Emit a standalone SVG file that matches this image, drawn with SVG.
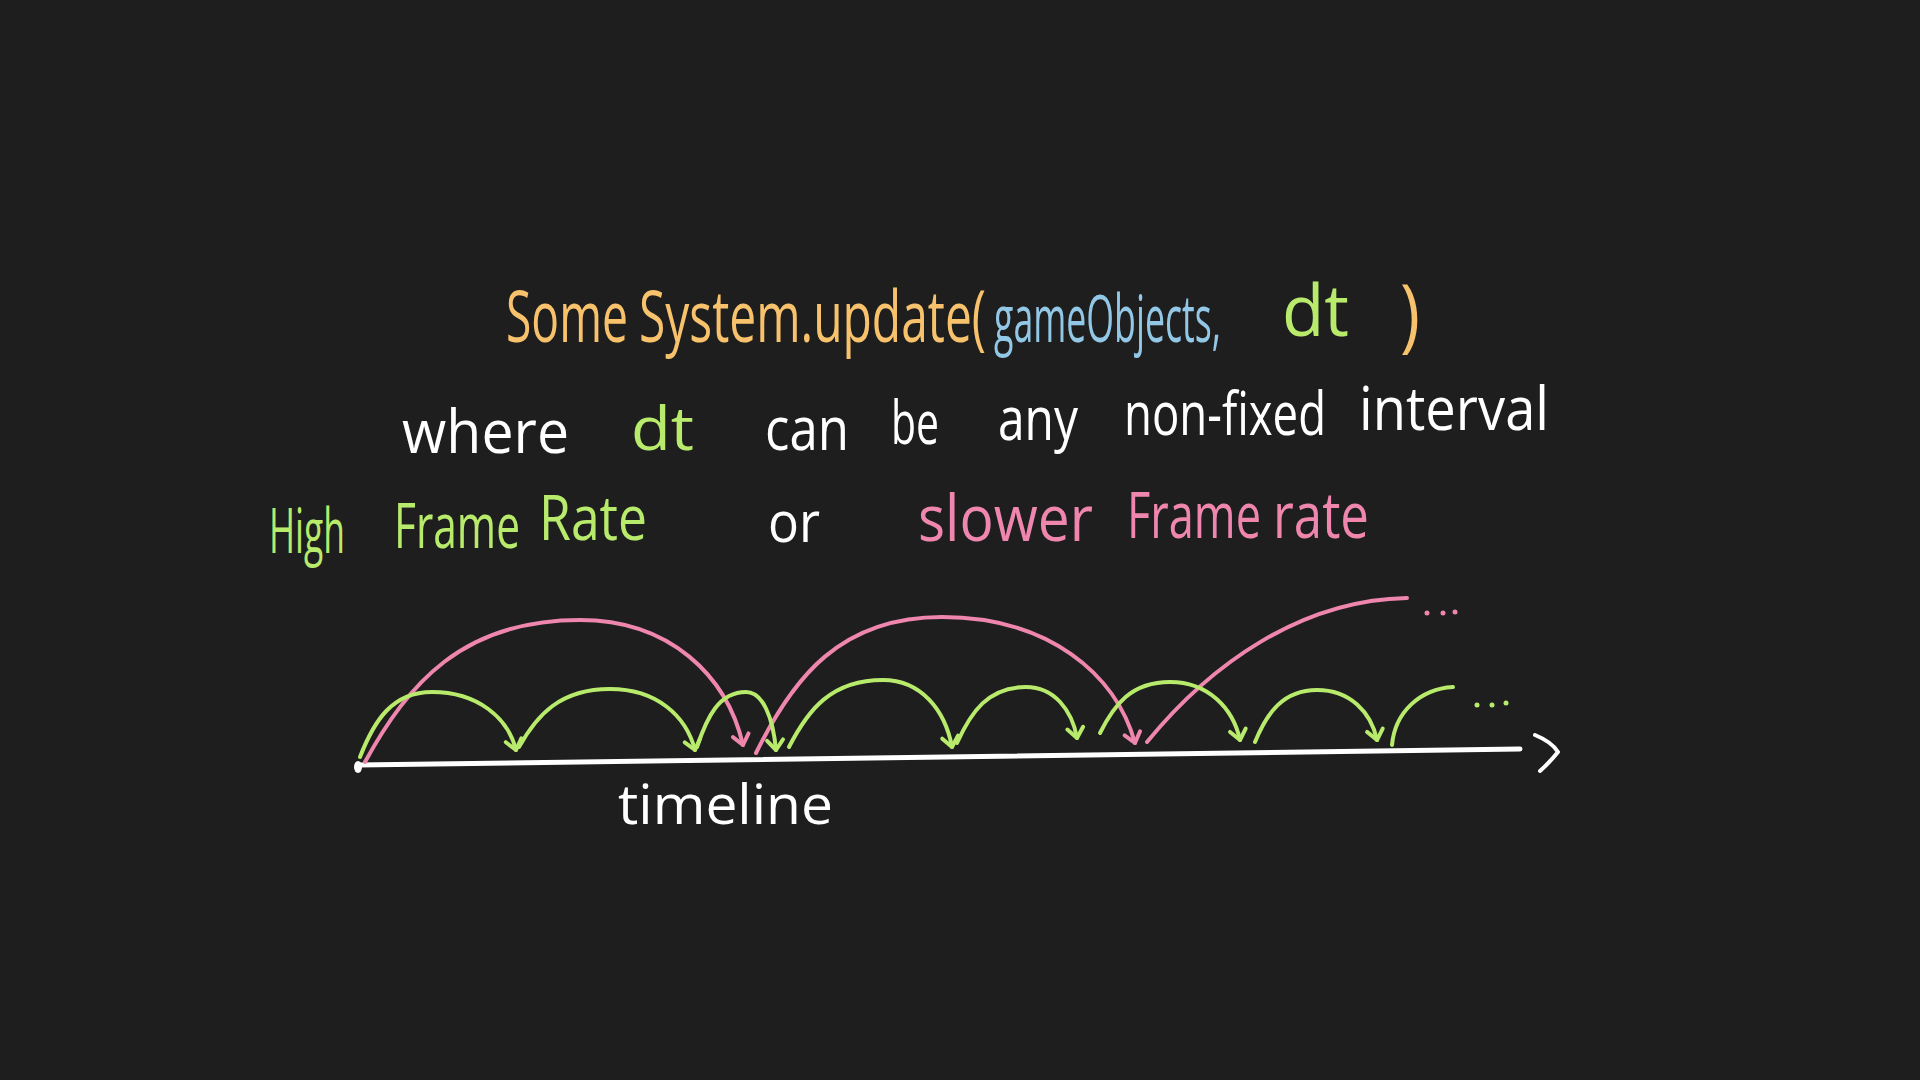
<svg xmlns="http://www.w3.org/2000/svg" width="1920" height="1080" viewBox="0 0 1920 1080">
<style>
text{font-family:"Open Sans","Liberation Sans",sans-serif;font-weight:400}
.o{fill:#f8c26c}.b{fill:#93c7e6}.g{fill:#b8ea6c}.w{fill:#ffffff}.p{fill:#ee86ad}
.arc{fill:none;stroke-width:4;stroke-linecap:round;stroke-linejoin:round}
.pa{stroke:#ee86ad}.ga{stroke:#b8ea6c}
</style>
<defs>
<marker id="ag" markerUnits="userSpaceOnUse" markerWidth="30" markerHeight="30" viewBox="-15 -15 30 30" refX="0" refY="0" orient="auto"><path d="M -10 -8 L 0 0 L -10 8" fill="none" stroke="#b8ea6c" stroke-width="4" stroke-linecap="round" stroke-linejoin="round"/></marker>
<marker id="ap" markerUnits="userSpaceOnUse" markerWidth="30" markerHeight="30" viewBox="-15 -15 30 30" refX="0" refY="0" orient="auto"><path d="M -10 -8 L 0 0 L -10 8" fill="none" stroke="#ee86ad" stroke-width="4" stroke-linecap="round" stroke-linejoin="round"/></marker>
</defs>
<rect width="1920" height="1080" fill="#1e1e1e"/>
<g id="title">
<text class="o" transform="translate(506 342) scale(1 1.6)" font-size="45" textLength="122" lengthAdjust="spacingAndGlyphs">Some</text>
<text class="o" transform="translate(639 342) scale(1 1.565)" font-size="46" textLength="347" lengthAdjust="spacingAndGlyphs">System.update(</text>
<text class="b" transform="translate(994 342) scale(1 1.886)" font-size="35" textLength="227" lengthAdjust="spacingAndGlyphs">gameObjects,</text>
<text class="g" transform="translate(1282 336) scale(1 1.09)" font-size="66" textLength="67" lengthAdjust="spacingAndGlyphs">dt</text>
<text class="o" transform="translate(1400 342) scale(1 1.23)" font-size="65" textLength="20" lengthAdjust="spacingAndGlyphs">)</text>
</g>
<g id="where-line">
<text class="w" transform="translate(402 453) scale(1 1.09)" font-size="55" textLength="167" lengthAdjust="spacingAndGlyphs">where</text>
<text class="g" x="631" y="450" font-size="60" textLength="63" lengthAdjust="spacingAndGlyphs">dt</text>
<text class="w" transform="translate(765 450) scale(1 1.22)" font-size="49" textLength="84" lengthAdjust="spacingAndGlyphs">can</text>
<text class="w" transform="translate(891 444) scale(1 1.54)" font-size="39" textLength="48" lengthAdjust="spacingAndGlyphs">be</text>
<text class="w" transform="translate(998 440) scale(1 1.3)" font-size="46" textLength="80" lengthAdjust="spacingAndGlyphs">any</text>
<text class="w" transform="translate(1124 435) scale(1 1.36)" font-size="44" textLength="202" lengthAdjust="spacingAndGlyphs">non-fixed</text>
<text class="w" transform="translate(1359 430) scale(1 1.15)" font-size="52" textLength="190" lengthAdjust="spacingAndGlyphs">interval</text>
</g>
<g id="high-frame-rate">
<text class="g" transform="translate(269 553) scale(1 1.82)" font-size="34" textLength="76" lengthAdjust="spacingAndGlyphs">High</text>
<text class="g" transform="translate(394 548) scale(1 1.51)" font-size="41" textLength="126" lengthAdjust="spacingAndGlyphs">Frame</text>
<text class="g" transform="translate(539 540) scale(1 1.24)" font-size="50" textLength="108" lengthAdjust="spacingAndGlyphs">Rate</text>
</g>
<g id="or">
<text class="w" transform="translate(768 542) scale(1 1.12)" font-size="50" textLength="52" lengthAdjust="spacingAndGlyphs">or</text>
</g>
<g id="slower-frame-rate">
<text class="p" transform="translate(918 541) scale(1 1.16)" font-size="55" textLength="175" lengthAdjust="spacingAndGlyphs">slower</text>
<text class="p" transform="translate(1127 538) scale(1 1.49)" font-size="43" textLength="134" lengthAdjust="spacingAndGlyphs">Frame</text>
<text class="p" transform="translate(1273 538) scale(1 1.31)" font-size="49" textLength="96" lengthAdjust="spacingAndGlyphs">rate</text>
</g>
<g id="timeline">
<path d="M 358 765 L 1520 749" fill="none" stroke="#ffffff" stroke-width="5" stroke-linecap="round"/>
<ellipse cx="358" cy="767" rx="4" ry="6" fill="#ffffff"/>
<path d="M 1535 735 Q 1552 742 1558 752 Q 1550 762 1540 771" fill="none" stroke="#ffffff" stroke-width="4" stroke-linecap="round" stroke-linejoin="round"/>
<text class="w" x="618" y="824" font-size="54" textLength="215" lengthAdjust="spacingAndGlyphs">timeline</text>
</g>
<g id="connectors">
<path class="arc pa" marker-end="url(#ap)" d="M 365 762 C 408 684, 462 620, 580 620 C 670 620, 727 676, 743 745"/>
<path class="arc pa" marker-end="url(#ap)" d="M 756 753 C 793 678, 840 617, 942 617 C 1048 617, 1116 674, 1135 743"/>
<path class="arc pa" d="M 1147 742 C 1210 665, 1300 600, 1407 598"/>
<path class="arc ga" marker-end="url(#ag)" d="M 360 757 C 374 721, 392 692, 432 692 C 478 692, 508 718, 516 750"/>
<path class="arc ga" marker-end="url(#ag)" d="M 519 747 C 537 715, 560 689, 610 689 C 657 689, 686 716, 695 750"/>
<path class="arc ga" marker-end="url(#ag)" d="M 697 747 C 707 717, 719 692, 746 692 C 763 692, 773 718, 776 750"/>
<path class="arc ga" marker-end="url(#ag)" d="M 789 747 C 808 710, 831 680, 883 680 C 921 680, 945 710, 952 747"/>
<path class="arc ga" marker-end="url(#ag)" d="M 957 743 C 971 712, 988 687, 1026 687 C 1054 687, 1072 710, 1077 738"/>
<path class="arc ga" marker-end="url(#ag)" d="M 1100 733 C 1114 705, 1131 682, 1170 682 C 1208 682, 1233 708, 1240 740"/>
<path class="arc ga" marker-end="url(#ag)" d="M 1255 742 C 1267 713, 1283 690, 1317 690 C 1350 690, 1371 712, 1377 740"/>
<path class="arc ga" d="M 1392 745 C 1395 712, 1420 689, 1453 687"/>
</g>
<g id="ellipsis-pink" fill="#ee86ad">
<circle cx="1427" cy="613" r="2.5"/><circle cx="1443" cy="613" r="2.5"/><circle cx="1455" cy="612" r="2.5"/>
</g>
<g id="ellipsis-green" fill="#b8ea6c">
<circle cx="1477" cy="705" r="2.5"/><circle cx="1492" cy="705" r="2.5"/><circle cx="1506" cy="703" r="2.5"/>
</g>
</svg>
